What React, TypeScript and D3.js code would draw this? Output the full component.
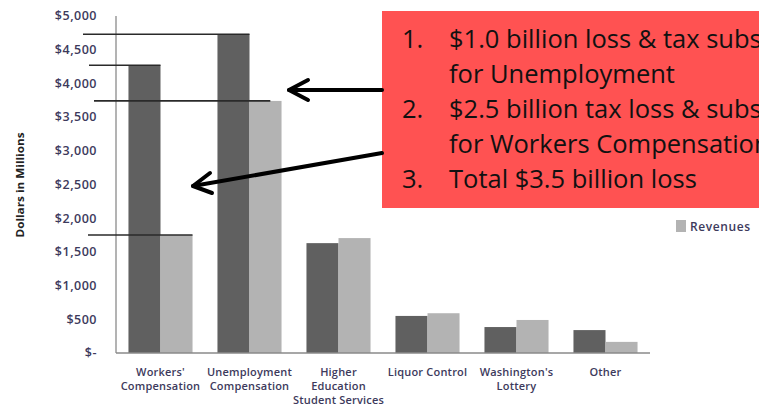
import React from "react";
import * as d3 from "d3";

const categories = [
  "Workers' Compensation",
  "Unemployment Compensation",
  "Higher Education Student Services",
  "Liquor Control",
  "Washington's Lottery",
  "Other",
];
const categoryLines = [
  ["Workers'", "Compensation"],
  ["Unemployment", "Compensation"],
  ["Higher", "Education", "Student Services"],
  ["Liquor Control"],
  ["Washington's", "Lottery"],
  ["Other"],
];
const expenditures = [4270, 4730, 1630, 550, 385, 340];
const revenues = [1750, 3740, 1705, 590, 490, 165];
const yTicks = [0, 500, 1000, 1500, 2000, 2500, 3000, 3500, 4000, 4500, 5000];
const calloutNums = ["1.", "", "2.", "", "3."];
const calloutLines = [
  "$1.0 billion loss & tax subsidy",
  "for Unemployment",
  "$2.5 billion tax loss & subsidy",
  "for Workers Compensation",
  "Total $3.5 billion loss",
];
// reference lines: [value, x start, category index whose bar end it meets, series]
const refLines: [number, number, number, number][] = [
  [4730, 83, 1, 0],
  [4270, 89, 0, 0],
  [3740, 94, 1, 1],
  [1750, 88, 0, 1],
];

const W = 759;
const H = 411;
const left = 116;
const right = 650;
const top = 16;
const bottom = 353;

const labelColor = "#3d3a5c";
const font = "'Open Sans', Calibri, sans-serif";
const boxFont = "'Open Sans', Calibri, sans-serif";

export default function App() {
  const y = d3.scaleLinear().domain([0, 5000]).range([bottom, top]);
  const x0 = d3
    .scaleBand<string>()
    .domain(categories)
    .range([left, right])
    .paddingInner(0.28)
    .paddingOuter(0.14);
  const x1 = d3
    .scaleBand<string>()
    .domain(["exp", "rev"])
    .range([0, x0.bandwidth()]);
  const fmt = (v: number) => (v === 0 ? "$-" : "$" + d3.format(",")(v));

  return (
    <svg
      width={W}
      height={H}
      style={{ position: "fixed", left: 0, top: 0, background: "#fff" }}
    >
      {/* y axis title */}
      <text
        transform={`translate(24,185) rotate(-90)`}
        textAnchor="middle"
        fontFamily={font}
        fontSize={10.5}
        fontWeight={700}
        fill="#222"
        textLength={105}
        lengthAdjust="spacingAndGlyphs"
      >
        Dollars in Millions
      </text>
      {/* y tick labels */}
      {yTicks.map((t) => (
        <text
          key={t}
          x={97}
          y={y(t)}
          dy="0.35em"
          textAnchor="end"
          fontFamily={font}
          fontSize={12.5}
          fontWeight={600}
          letterSpacing={0.5}
          fill={labelColor}
        >
          {fmt(t)}
        </text>
      ))}
      {/* bars */}
      {categories.map((c, i) => (
        <g key={c} transform={`translate(${x0(c)},0)`}>
          <rect
            x={x1("exp")}
            y={y(expenditures[i])}
            width={x1.bandwidth()}
            height={y(0) - y(expenditures[i])}
            fill="#606060"
          />
          <rect
            x={x1("rev")}
            y={y(revenues[i])}
            width={x1.bandwidth()}
            height={y(0) - y(revenues[i])}
            fill="#b3b3b3"
          />
        </g>
      ))}
      {/* axes */}
      <line x1={left} x2={left} y1={top} y2={bottom} stroke="#8a8a8a" strokeWidth={1.3} />
      <line x1={left} x2={right} y1={bottom} y2={bottom} stroke="#8a8a8a" strokeWidth={1.3} />
      {/* x labels */}
      {categories.map((c, i) => (
        <text
          key={c}
          x={(x0(c) as number) + x0.bandwidth() / 2}
          y={376}
          textAnchor="middle"
          fontFamily={font}
          fontSize={11}
          fontWeight={600}
          letterSpacing={0.2}
          fill={labelColor}
        >
          {categoryLines[i].map((l, j) => (
            <tspan key={j} x={(x0(c) as number) + x0.bandwidth() / 2} dy={j === 0 ? 0 : 14}>
              {l}
            </tspan>
          ))}
        </text>
      ))}
      {/* reference lines */}
      {refLines.map(([v, xs, ci, s], k) => {
        const xe =
          (x0(categories[ci]) as number) +
          (x1(s === 0 ? "exp" : "rev") as number) +
          (k === 2 ? x1.bandwidth() * 0.65 : x1.bandwidth());
        return (
          <line key={k} x1={xs} x2={xe} y1={y(v)} y2={y(v)} stroke="#2a2a2a" strokeWidth={1.6} />
        );
      })}
      {/* legend */}
      <rect x={676} y={220} width={10} height={12} fill="#b3b3b3" />
      <text
        x={690}
        y={230.5}
        fontFamily={font}
        fontSize={12}
        fontWeight={600}
        letterSpacing={0.6}
        fill={labelColor}
      >
        Revenues
      </text>
      {/* callout box */}
      <rect x={382} y={11} width={W - 382 + 5} height={197} fill="#ff5252" />
      {calloutLines.map((l, i) => (
        <g key={i}>
          {calloutNums[i] && (
            <text x={402} y={48 + i * 35} fontFamily={boxFont} fontSize={25.5} fill="#111">
              {calloutNums[i]}
            </text>
          )}
          <text x={449} y={48 + i * 35} fontFamily={boxFont} fontSize={25.5} fill="#111">
            {l}
          </text>
        </g>
      ))}
      {/* arrows */}
      <g stroke="#000" strokeWidth={4} fill="none" strokeLinecap="round" strokeLinejoin="round">
        <line x1={382} y1={90} x2={289} y2={90} />
        <polyline points="308,80 289,90 308,100" />
        <line x1={382} y1={153} x2={193} y2={186} />
        <polyline points="210,173 193,186 212,193" />
      </g>
    </svg>
  );
}
